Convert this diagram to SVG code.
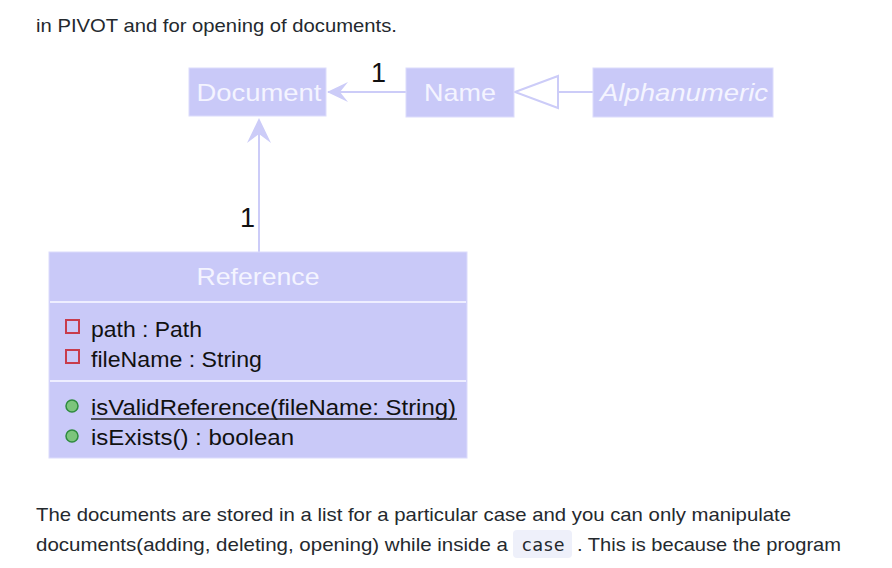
<svg xmlns="http://www.w3.org/2000/svg" width="892" height="568" viewBox="0 0 892 568">
<style>
.box{fill:#C9C9F8;stroke:#DCDCFC;stroke-width:1}
.hd{font-family:"Liberation Sans",Arial,sans-serif;font-size:24px;fill:#F4F4FF;text-anchor:middle}
.mem{font-family:"Liberation Sans",Arial,sans-serif;font-size:22px;fill:#111}
.lbl{font-family:"Liberation Sans",Arial,sans-serif;font-size:27px;fill:#111}
.ln{stroke:#CCCCF8;stroke-width:2;fill:none}
.body{font-family:"Liberation Sans",Arial,sans-serif;font-size:19px;fill:#24292e}
.sep{stroke:#EEEEFF;stroke-width:2}
</style>
<rect width="892" height="568" fill="#ffffff"/>
<text class="body" x="36" y="32" textLength="361" lengthAdjust="spacingAndGlyphs">in PIVOT and for opening of documents.</text>

<g id="connectors">
  <line class="ln" x1="406" y1="92" x2="328" y2="92"/>
  <polygon points="327,92 348,82 340,92 348,102" fill="#CCCCF8"/>
  <text class="lbl" x="371" y="82">1</text>
  <line class="ln" x1="593" y1="92" x2="558" y2="92"/>
  <polygon points="515,92 558,76 558,108" fill="#ffffff" stroke="#CCCCF8" stroke-width="2"/>
  <line class="ln" x1="259" y1="252" x2="259" y2="125"/>
  <polygon points="259,118 271,143 259,134 247,143" fill="#CCCCF8"/>
  <text class="lbl" x="240" y="227">1</text>
</g>

<g id="document">
  <rect class="box" x="189" y="68" width="137" height="48"/>
  <text class="hd" x="259" y="101" textLength="125" lengthAdjust="spacingAndGlyphs">Document</text>
</g>
<g id="name">
  <rect class="box" x="406" y="68" width="108" height="49"/>
  <text class="hd" x="460" y="101" textLength="72" lengthAdjust="spacingAndGlyphs">Name</text>
</g>
<g id="alphanumeric">
  <rect class="box" x="593" y="68" width="180" height="49"/>
  <text class="hd" x="684" y="101" font-style="italic" textLength="168" lengthAdjust="spacingAndGlyphs">Alphanumeric</text>
</g>

<g id="reference">
  <rect class="box" x="49" y="252" width="418" height="206"/>
  <line class="sep" x1="50" y1="302" x2="466" y2="302"/>
  <line class="sep" x1="50" y1="381" x2="466" y2="381"/>
  <text class="hd" x="258" y="285" textLength="123" lengthAdjust="spacingAndGlyphs">Reference</text>
  <rect x="66" y="320" width="13" height="13" fill="none" stroke="#C83C4C" stroke-width="2"/>
  <text class="mem" x="91" y="337" textLength="111" lengthAdjust="spacingAndGlyphs">path : Path</text>
  <rect x="66" y="350" width="13" height="13" fill="none" stroke="#C83C4C" stroke-width="2"/>
  <text class="mem" x="91" y="367" textLength="171" lengthAdjust="spacingAndGlyphs">fileName : String</text>
  <circle cx="72" cy="406" r="6" fill="#7CC47C" stroke="#2E8B3E" stroke-width="1.5"/>
  <text class="mem" x="91" y="415" textLength="365" lengthAdjust="spacingAndGlyphs">isValidReference(fileName: String)</text>
  <line x1="91" y1="419" x2="457" y2="419" stroke="#222" stroke-width="1.5"/>
  <circle cx="72" cy="436" r="6" fill="#7CC47C" stroke="#2E8B3E" stroke-width="1.5"/>
  <text class="mem" x="91" y="445" textLength="203" lengthAdjust="spacingAndGlyphs">isExists() : boolean</text>
</g>

<text class="body" x="36" y="521" textLength="755" lengthAdjust="spacingAndGlyphs">The documents are stored in a list for a particular case and you can only manipulate</text>
<text class="body" x="36" y="551" textLength="472" lengthAdjust="spacingAndGlyphs">documents(adding, deleting, opening) while inside a</text>
<rect x="513" y="530" width="59" height="28" rx="4" fill="#EEF0FA"/>
<text x="543" y="551" font-family="'DejaVu Sans Mono','Liberation Mono',monospace" font-size="18" fill="#24292e" text-anchor="middle">case</text>
<text class="body" x="577" y="551" textLength="264" lengthAdjust="spacingAndGlyphs">. This is because the program</text>
</svg>
